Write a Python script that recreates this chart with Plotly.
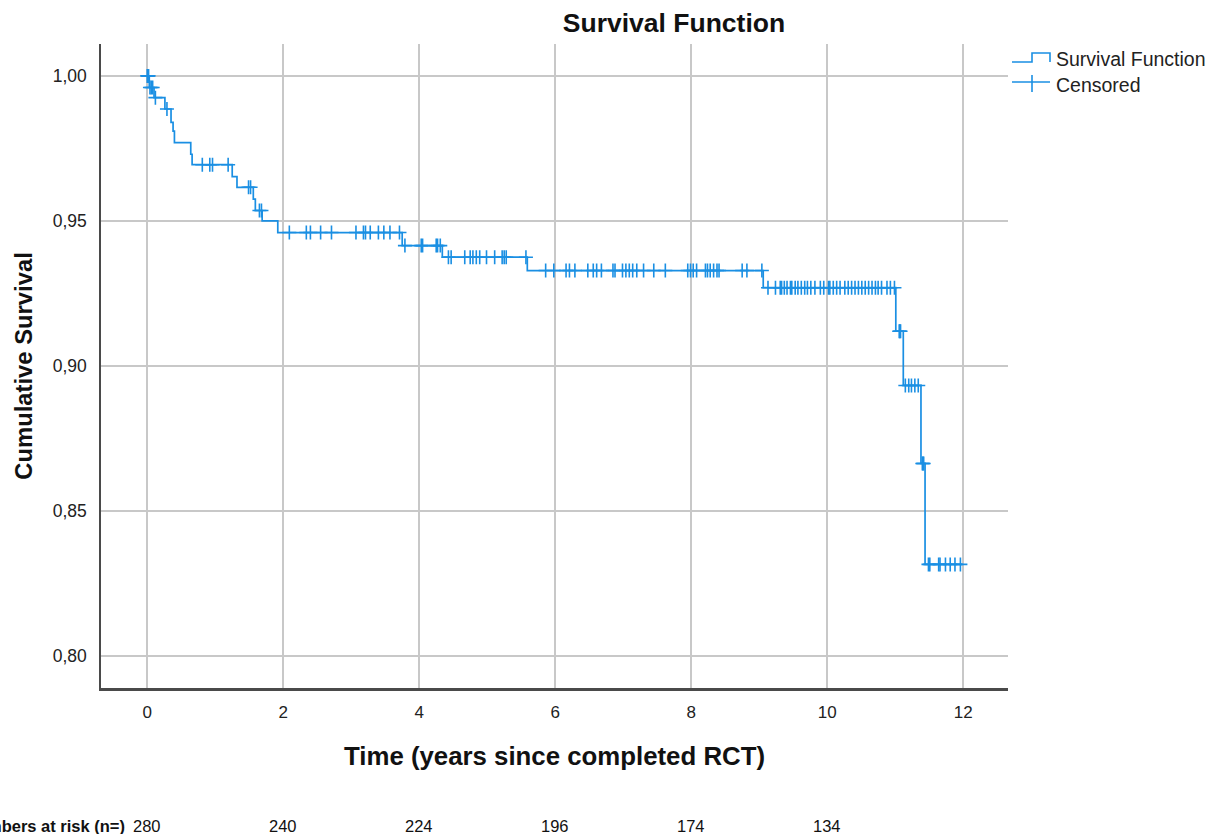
import numpy as np
import plotly.graph_objects as go

# ---------------- data ----------------
event_times = [0.0, 0.03, 0.10, 0.26, 0.35, 0.38, 0.40, 0.64, 0.66, 1.25, 1.32, 1.56, 1.59,
               1.69, 1.92, 3.75, 4.34, 5.59, 9.06, 11.01, 11.12, 11.38, 11.44]
surv_values = [1.000, 0.996, 0.9925, 0.9886, 0.984, 0.981, 0.977, 0.973, 0.9694, 0.9653, 0.9616,
               0.9575, 0.9536, 0.950, 0.946, 0.9415, 0.9375, 0.9329, 0.927, 0.912, 0.8933,
               0.8664, 0.8316]
end_time = 12.0

censor_times = [0.0, 0.01, 0.02, 0.04, 0.06, 0.08, 0.12, 0.29,
                0.81, 0.92, 0.96, 1.19, 1.49, 1.52, 1.65, 1.68,
                2.09, 2.34, 2.40, 2.55, 2.71, 3.07, 3.18, 3.21, 3.28, 3.40, 3.48, 3.57, 3.71,
                3.79, 4.03, 4.05, 4.25, 4.27, 4.31,
                4.43, 4.47, 4.67, 4.75, 4.79, 4.84, 4.89, 4.99, 5.11, 5.22, 5.25, 5.28, 5.57,
                5.86, 5.98, 6.16, 6.21, 6.29, 6.48, 6.56, 6.61, 6.68, 6.85, 6.88, 6.99, 7.04,
                7.09, 7.14, 7.20, 7.30, 7.45, 7.62, 7.95, 7.99, 8.03, 8.08, 8.21, 8.24, 8.28,
                8.33, 8.38, 8.41, 8.75, 8.82, 9.04,
                9.13, 9.24, 9.31, 9.33, 9.37, 9.41, 9.46, 9.48, 9.53, 9.57, 9.62, 9.67, 9.71,
                9.76, 9.82, 9.90, 9.95, 10.02, 10.04, 10.09, 10.14, 10.19, 10.26, 10.31, 10.36,
                10.41, 10.46, 10.51, 10.56, 10.61, 10.66, 10.71, 10.75, 10.80, 10.88, 10.93, 10.99,
                11.06, 11.07, 11.08,
                11.15, 11.20, 11.24, 11.29, 11.34,
                11.40, 11.41, 11.42,
                11.49, 11.51, 11.64, 11.66, 11.74, 11.81, 11.88, 11.96]

risk_times = [0, 2, 4, 6, 8, 10]
risk_counts = ["280", "240", "224", "196", "174", "134"]

x_ticks = [0, 2, 4, 6, 8, 10, 12]
y_ticks = [0.80, 0.85, 0.90, 0.95, 1.00]
y_tick_labels = ["0,80", "0,85", "0,90", "0,95", "1,00"]

# ---------------- styling ----------------
BLUE = "#1a8fe3"
GRID = "#c8c8c8"
AXIS = "#4a4a4a"
FONT = "Liberation Sans, Arial, sans-serif"

W, H = 1212, 834
PL, PR, PT, PB = 101, 1008, 44, 688   # plot area in px


def px(x):
    return (x - PL) / (PR - PL)


def py(y):
    return (PB - y) / (PB - PT)


# step curve points
step_x = list(event_times) + [end_time]
step_y = list(surv_values) + [surv_values[-1]]

# censor y from the step function
et = np.array(event_times)
sv = np.array(surv_values)
ct = np.array(censor_times)
idx = np.searchsorted(et, ct, side="right") - 1
censor_y = sv[idx]

fig = go.Figure()
fig.add_trace(go.Scatter(x=step_x, y=step_y, mode="lines", line=dict(color=BLUE, width=1.7, shape="hv"),
                         name="Survival Function", showlegend=False, hoverinfo="skip"))
fig.add_trace(go.Scatter(x=ct, y=censor_y, mode="markers",
                         marker=dict(symbol="cross-thin", size=10, line=dict(color=BLUE, width=1.6)),
                         name="Censored", showlegend=False, hoverinfo="skip"))

# numbers at risk
annotations = []
for t, n in zip(risk_times, risk_counts):
    annotations.append(dict(x=t, y=py(826), xref="x", yref="paper", text=n, showarrow=False,
                            xanchor="center", yanchor="middle",
                            font=dict(family=FONT, size=16.5, color="#111111")))
annotations.append(dict(x=px(127), y=py(826), xref="paper", yref="paper",
                        text="<b>Numbers at risk (n=)</b>", showarrow=False,
                        xanchor="right", yanchor="middle",
                        font=dict(family=FONT, size=16.5, color="#111111")))

# legend (manual)
annotations.append(dict(x=px(1054), y=py(59), xref="paper", yref="paper", text="Survival Function",
                        showarrow=False, xanchor="left", yanchor="middle",
                        font=dict(family=FONT, size=19.5, color="#222222")))
annotations.append(dict(x=px(1054), y=py(85), xref="paper", yref="paper", text="Censored",
                        showarrow=False, xanchor="left", yanchor="middle",
                        font=dict(family=FONT, size=19.5, color="#222222")))

shapes = [
    dict(type="path", xref="paper", yref="paper",
         path=f"M {px(1012)} {py(62)} L {px(1032)} {py(62)} L {px(1032)} {py(53)} L {px(1050)} {py(53)} L {px(1050)} {py(62)}",
         line=dict(color=BLUE, width=1.6)),
    dict(type="line", xref="paper", yref="paper", x0=px(1012), x1=px(1050), y0=py(82), y1=py(82),
         line=dict(color=BLUE, width=1.6)),
    dict(type="line", xref="paper", yref="paper", x0=px(1032), x1=px(1032), y0=py(75), y1=py(92),
         line=dict(color=BLUE, width=1.6)),
]

fig.update_layout(
    width=W, height=H,
    margin=dict(l=PL, r=W - PR, t=PT, b=H - PB, pad=0),
    paper_bgcolor="white", plot_bgcolor="white",
    title=dict(text="<b>Survival Function</b>", x=674 / W, xref="container", xanchor="center",
               y=1 - 22.5 / H, yref="container", yanchor="middle",
               font=dict(family=FONT, size=26.5, color="#111111")),
    annotations=annotations, shapes=shapes,
    showlegend=False,
)
fig.update_xaxes(range=[-0.68, 12.66], tickvals=x_ticks, ticktext=[str(v) for v in x_ticks],
                 showgrid=True, gridcolor=GRID, gridwidth=1.8, zeroline=False,
                 showline=True, linecolor=AXIS, linewidth=2.5, mirror=False, ticks="",
                 ticklabelstandoff=7, tickfont=dict(family=FONT, size=17, color="#222222"),
                 title=dict(text="<b>Time (years since completed RCT)</b>", standoff=26,
                            font=dict(family=FONT, size=25.8, color="#111111")))
fig.update_yaxes(range=[0.789, 1.011], tickvals=y_ticks, ticktext=y_tick_labels,
                 showgrid=True, gridcolor=GRID, gridwidth=1.8, zeroline=False,
                 showline=True, linecolor=AXIS, linewidth=1.5, mirror=False, ticks="",
                 ticklabelstandoff=9, tickfont=dict(family=FONT, size=17.5, color="#222222"),
                 title=dict(text="<b>Cumulative Survival</b>", standoff=13,
                            font=dict(family=FONT, size=23.8, color="#111111")))

fig.write_html("out.html", config={"displayModeBar": False},
               post_script="document.body.style.margin='0px';")
